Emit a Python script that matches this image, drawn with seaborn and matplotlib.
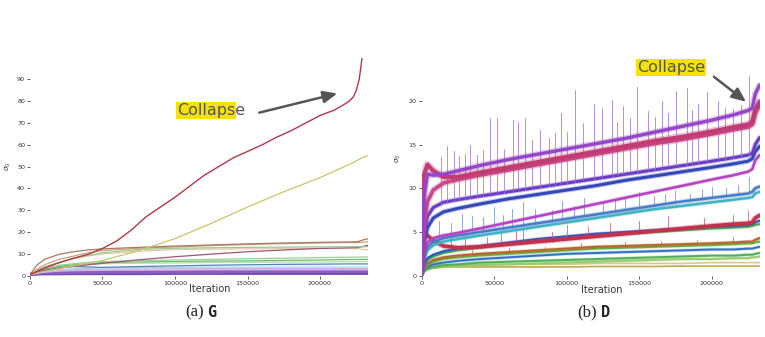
import matplotlib
matplotlib.use("Agg")
import matplotlib.pyplot as plt
from matplotlib.patches import Rectangle
import seaborn as sns
import pandas as pd

# ---------------- (a) G : sigma_0 of generator layers ----------------
g_iter = [0, 5000, 10000, 20000, 30000, 40000, 50000, 60000, 70000, 80000, 90000,
          100000, 110000, 120000, 130000, 140000, 150000, 160000, 170000, 180000,
          190000, 200000, 210000, 216000, 220000, 223000, 225000, 227000, 229000]
g_red = [0.5, 2.0, 3.5, 6.0, 8.0, 9.8, 12.5, 16.0, 21.0, 27.0, 31.5,
         36.0, 41.0, 46.0, 50.0, 54.0, 57.0, 60.0, 63.5, 66.5,
         70.0, 73.5, 76.0, 78.3, 80.0, 82.0, 85.0, 90.0, 100.0]

g_iter2 = [0, 5000, 10000, 20000, 30000, 40000, 50000, 75000, 100000, 125000,
           150000, 175000, 200000, 220000, 226000, 230000, 233000]
g_yellow = [0.5, 1.3, 2.0, 3.2, 4.5, 5.7, 7.0, 11.5, 17.0, 24.0,
            31.5, 38.5, 45.0, 51.0, 53.0, 54.5, 55.0]
g_brown1 = [0.5, 5.0, 7.5, 9.8, 11.0, 11.8, 12.3, 13.0, 13.6, 14.1,
            14.6, 15.0, 15.3, 15.5, 15.6, 16.5, 16.9]
g_brown2 = [0.5, 3.0, 5.0, 7.5, 9.0, 10.5, 11.5, 12.6, 13.2, 13.8,
            14.3, 14.7, 15.0, 15.2, 15.2, 15.4, 15.5]
g_green = [0.5, 2.5, 4.0, 6.0, 8.0, 9.3, 10.5, 12.0, 12.6, 12.8,
           13.0, 13.1, 13.2, 13.3, 13.3, 13.3, 13.3]
g_mauve = [0.5, 1.5, 2.5, 3.5, 4.3, 5.0, 5.7, 7.3, 8.7, 9.9,
           11.0, 11.8, 12.5, 12.8, 12.9, 13.5, 14.0]
g_beige = [0.5, 2.5, 4.0, 6.0, 7.8, 9.0, 10.0, 11.2, 12.0, 12.2,
           12.3, 12.4, 12.5, 12.5, 12.4, 12.0, 11.8]
g_green1 = [0.5, 2.3, 3.5, 4.8, 5.5, 6.1, 6.5, 6.9, 7.2, 7.5,
            7.8, 8.0, 8.3, 8.5, 8.5, 8.6, 8.6]
g_green2 = [0.5, 2.0, 3.0, 4.3, 5.0, 5.6, 6.0, 6.3, 6.5, 6.7,
            6.8, 7.0, 7.2, 7.4, 7.4, 7.5, 7.5]
g_green3 = [0.5, 2.0, 3.0, 4.0, 4.6, 5.2, 5.5, 5.7, 5.8, 6.0,
            6.1, 6.2, 6.3, 6.4, 6.4, 6.5, 6.5]
g_teal = [0.5, 1.8, 2.5, 3.6, 4.2, 4.0, 3.8, 4.2, 4.5, 4.8,
          5.0, 5.2, 5.3, 5.4, 5.4, 5.4, 5.4]
g_ltblue = [0.5, 1.5, 2.0, 2.8, 3.2, 3.4, 3.6, 3.7, 3.8, 3.9,
            3.9, 4.0, 4.0, 4.0, 4.0, 4.0, 4.0]
g_lavender = [0.5, 1.3, 1.8, 2.4, 2.7, 2.9, 3.0, 3.1, 3.2, 3.2,
              3.3, 3.3, 3.3, 3.3, 3.3, 3.3, 3.3]
g_pink = [0.5, 1.2, 1.6, 2.1, 2.3, 2.4, 2.5, 2.6, 2.6, 2.7,
          2.7, 2.7, 2.7, 2.7, 2.7, 2.7, 2.7]
g_purple = [0.5, 1.2, 1.4, 1.5, 1.6, 1.6, 1.7, 1.7, 1.8, 1.8,
            1.9, 1.9, 1.9, 2.0, 2.0, 2.0, 2.0]
g_purple2 = [0.5, 0.9, 1.0, 1.0, 1.1, 1.1, 1.1, 1.1, 1.2, 1.2,
             1.2, 1.2, 1.2, 1.2, 1.2, 1.2, 1.2]

# ---------------- (b) D : sigma_0 of discriminator layers ----------------
d_iter = [0, 1500, 4000, 8000, 15000, 25000, 40000, 60000, 80000, 100000,
          120000, 140000, 160000, 180000, 200000, 215000, 225000, 228000, 230000, 233000]
d_violet = [0.5, 9.0, 11.6, 11.5, 11.6, 12.0, 12.6, 13.3, 13.9, 14.5,
            15.1, 15.7, 16.4, 17.1, 17.8, 18.4, 18.9, 19.2, 20.8, 21.8]
d_rose = [1.0, 11.5, 12.7, 12.0, 11.3, 11.3, 11.8, 12.4, 13.0, 13.6,
          14.2, 14.8, 15.4, 15.9, 16.5, 17.0, 17.3, 17.6, 19.0, 19.9]
d_rose2 = [0.3, 5.5, 8.5, 9.8, 10.6, 11.0, 11.5, 12.1, 12.7, 13.3,
           13.9, 14.5, 15.1, 15.6, 16.2, 16.7, 17.0, 17.3, 18.6, 19.5]
d_indigo = [0.3, 4.5, 6.8, 7.8, 8.4, 8.7, 9.1, 9.6, 10.1, 10.6,
            11.1, 11.6, 12.1, 12.6, 13.1, 13.5, 13.8, 14.0, 15.0, 15.8]
d_blue = [0.2, 3.5, 5.5, 6.6, 7.3, 7.7, 8.2, 8.8, 9.3, 9.8,
          10.3, 10.9, 11.4, 11.9, 12.4, 12.8, 13.1, 13.4, 14.2, 14.8]
d_magenta = [0.2, 2.5, 3.8, 4.3, 4.6, 4.9, 5.4, 6.1, 6.8, 7.5,
             8.2, 8.9, 9.6, 10.3, 11.0, 11.5, 11.9, 12.2, 13.2, 13.8]
d_steel = [0.2, 2.2, 3.3, 3.9, 4.3, 4.6, 5.0, 5.5, 6.0, 6.5,
           7.0, 7.5, 8.0, 8.5, 8.9, 9.2, 9.4, 9.6, 10.0, 10.2]
d_teal = [0.2, 1.8, 2.9, 3.5, 3.9, 4.2, 4.6, 5.1, 5.6, 6.1,
          6.6, 7.1, 7.6, 8.0, 8.4, 8.7, 8.9, 9.0, 9.4, 9.6]
d_crimson = [0.5, 4.4, 4.6, 4.0, 3.4, 3.2, 3.3, 3.6, 3.9, 4.2,
             4.5, 4.8, 5.1, 5.4, 5.7, 5.9, 6.0, 6.1, 6.6, 6.9]
d_blue2 = [0.1, 1.2, 2.0, 2.4, 2.8, 3.1, 3.4, 3.8, 4.2, 4.5,
           4.8, 5.0, 5.2, 5.4, 5.6, 5.7, 5.8, 5.9, 6.1, 6.3]
d_green = [0.1, 1.0, 1.8, 2.2, 2.6, 2.9, 3.2, 3.6, 3.9, 4.2,
           4.5, 4.8, 5.0, 5.2, 5.4, 5.5, 5.6, 5.7, 5.8, 5.9]
d_brown = [0.1, 0.8, 1.4, 1.8, 2.1, 2.3, 2.5, 2.7, 2.9, 3.1,
           3.3, 3.4, 3.5, 3.6, 3.7, 3.8, 3.9, 3.9, 4.1, 4.3]
d_green2 = [0.1, 0.7, 1.2, 1.6, 1.9, 2.1, 2.3, 2.5, 2.7, 2.9,
            3.1, 3.2, 3.3, 3.4, 3.5, 3.6, 3.7, 3.7, 3.8, 3.9]
d_blue3 = [0.1, 0.6, 1.0, 1.3, 1.5, 1.7, 1.9, 2.1, 2.3, 2.5,
           2.6, 2.7, 2.8, 2.9, 3.0, 3.0, 3.1, 3.1, 3.2, 3.3]
d_green3 = [0.1, 0.5, 0.8, 1.0, 1.2, 1.3, 1.5, 1.6, 1.7, 1.8,
            1.9, 2.0, 2.1, 2.2, 2.3, 2.3, 2.4, 2.4, 2.5, 2.6]
d_lime = [0.1, 0.5, 0.7, 0.9, 1.0, 1.1, 1.2, 1.3, 1.4, 1.5,
          1.6, 1.7, 1.8, 1.9, 1.9, 2.0, 2.0, 2.1, 2.1, 2.2]
d_khaki = [0.8, 1.0, 1.1, 1.2, 1.2, 1.2, 1.3, 1.3, 1.3, 1.3,
           1.4, 1.4, 1.4, 1.4, 1.5, 1.5, 1.5, 1.5, 1.5, 1.5]
d_olive = [0.7, 0.8, 0.9, 0.9, 1.0, 1.0, 1.0, 1.0, 1.0, 1.0,
           1.05, 1.05, 1.05, 1.1, 1.1, 1.1, 1.1, 1.1, 1.1, 1.1]

# Spikes on the upper discriminator layers (iteration, low, high)
spike_hi_x = [13000, 17700, 22000, 26000, 30000, 33300, 38000, 42000, 47100, 51700,
              57000, 63200, 66700, 71300, 76000, 81600, 88000, 92000, 95900, 100500,
              105700, 111500, 118900, 124100, 131000, 135000, 139000, 144000, 148300, 156000,
              161000, 165500, 170000, 175400, 182800, 186500, 190800, 196600, 204600, 209000,
              215000, 220000, 226000]
spike_hi_lo = [8.1, 8.3, 8.5, 8.7, 8.8, 8.9, 9.0, 9.1, 9.3, 9.4,
               9.5, 9.7, 9.8, 9.9, 10.0, 10.1, 10.3, 10.4, 10.5, 10.6,
               10.7, 10.9, 11.1, 11.2, 11.4, 11.5, 11.6, 11.7, 11.8, 12.0,
               12.1, 12.2, 12.4, 12.5, 12.7, 12.8, 12.9, 13.0, 13.2, 13.3,
               13.5, 13.6, 13.8]
spike_hi_top = [13.6, 14.8, 14.3, 13.7, 13.9, 14.9, 13.8, 14.4, 18.0, 18.0,
                14.5, 17.8, 17.6, 18.0, 15.5, 16.7, 15.8, 16.3, 18.6, 16.4,
                21.3, 17.5, 19.7, 19.2, 20.1, 17.6, 19.4, 18.1, 21.6, 18.8,
                18.2, 20.0, 18.6, 21.1, 21.5, 19.0, 19.6, 21.0, 20.0, 19.2,
                19.1, 19.5, 22.9]
# Spikes on the middle layers
spike_mid_x = [12000, 20000, 28000, 35000, 42000, 50000, 56000, 62000, 70000, 78000,
               90000, 97000, 105000, 112000, 125000, 133000, 140000, 150000, 160000,
               168000, 175000, 185000, 193000, 200000, 210000, 218000, 226000]
spike_mid_lo = [4.0, 4.3, 4.5, 4.8, 5.0, 5.2, 5.4, 5.5, 5.7, 6.0,
                6.2, 6.4, 6.6, 6.8, 7.1, 7.3, 7.5, 7.7, 8.0,
                8.2, 8.4, 8.6, 8.7, 8.9, 9.1, 9.2, 9.4]
spike_mid_top = [6.3, 6.0, 7.1, 6.8, 6.7, 7.9, 7.0, 7.6, 8.4, 7.6,
                 7.5, 8.6, 8.0, 8.9, 8.3, 8.7, 9.0, 9.6, 9.1,
                 9.4, 9.8, 9.4, 9.9, 10.1, 10.0, 10.4, 11.3]
# Spikes on the lower layers
spike_lo_x = [20000, 30000, 45000, 55000, 65000, 70000, 90000, 100000,
              115000, 130000, 150000, 170000, 195000, 215000, 225000]
spike_lo_lo = [3.2, 3.3, 3.3, 3.5, 3.6, 3.7, 3.9, 4.2,
               4.4, 4.6, 4.8, 5.2, 5.6, 5.9, 6.0]
spike_lo_top = [4.3, 4.6, 4.4, 5.0, 5.1, 5.3, 5.0, 5.8,
                5.6, 6.0, 6.3, 6.8, 6.6, 6.9, 7.4]
spike_br_x = [35000, 60000, 85000, 110000, 140000, 165000, 190000, 215000]
spike_br_lo = [2.4, 2.6, 2.8, 3.1, 3.3, 3.5, 3.6, 3.8]
spike_br_top = [2.9, 3.2, 3.3, 3.7, 3.8, 4.0, 4.1, 4.4]

ticks_x = [0, 50000, 100000, 150000, 200000]
ticks_g = [0, 10, 20, 30, 40, 50, 60, 70, 80, 90]
ticks_d = [0, 5, 10, 15, 20]

sns.set_theme(style="ticks")
plt.rcParams["font.family"] = ["DejaVu Sans"]

fig = plt.figure(figsize=(7.65, 3.37), dpi=100)
ax_g = fig.add_axes([0.0392, 0.1819, 0.4417, 0.6469])
ax_d = fig.add_axes([0.5512, 0.1819, 0.4417, 0.5965])


def line(ax, x, y, color, lw, halo=0.0, alpha=1.0):
    if halo > 0:
        sns.lineplot(x=x, y=y, ax=ax, color=color, lw=lw + halo, alpha=0.3,
                     estimator=None, sort=False)
    sns.lineplot(x=x, y=y, ax=ax, color=color, lw=lw, alpha=alpha,
                 estimator=None, sort=False)


def spikes(ax, xs, lows, highs, color, lw=0.75, alpha=0.75):
    rows = []
    for i, (x, lo, hi) in enumerate(zip(xs, lows, highs)):
        rows.append((i, x, lo))
        rows.append((i, x, hi))
    df = pd.DataFrame(rows, columns=["sid", "it", "val"])
    sns.lineplot(data=df, x="it", y="val", units="sid", estimator=None, sort=False,
                 ax=ax, color=color, lw=lw, alpha=alpha)


# ---- generator panel
line(ax_g, g_iter2, g_purple2, "#6848b0", 2.6)
line(ax_g, g_iter2, g_purple, "#8a5cc4", 2.6)
line(ax_g, g_iter2, g_pink, "#e4b4d8", 0.9)
line(ax_g, g_iter2, g_lavender, "#c8b0e4", 0.9)
line(ax_g, g_iter2, g_ltblue, "#a8d4ec", 0.9)
line(ax_g, g_iter2, g_teal, "#4c84b4", 0.9)
line(ax_g, g_iter2, g_green3, "#b8e0a4", 0.9)
line(ax_g, g_iter2, g_green2, "#70b870", 0.9)
line(ax_g, g_iter2, g_green1, "#98d098", 0.9)
line(ax_g, g_iter2, g_beige, "#dccca4", 0.9)
line(ax_g, g_iter2, g_mauve, "#a45474", 0.9)
line(ax_g, g_iter2, g_green, "#9cc88c", 0.9)
line(ax_g, g_iter2, g_brown2, "#caa084", 0.9)
line(ax_g, g_iter2, g_brown1, "#a87a62", 0.9)
line(ax_g, g_iter2, g_yellow, "#cac46c", 0.9)
line(ax_g, g_iter, g_red, "#b03848", 1.0)

# ---- discriminator panel
line(ax_d, d_iter, d_olive, "#c0a850", 1.2)
line(ax_d, d_iter, d_khaki, "#d8c890", 1.2)
line(ax_d, d_iter, d_lime, "#98cc68", 1.4, halo=1.0)
line(ax_d, d_iter, d_green3, "#50b058", 1.4, halo=1.0)
line(ax_d, d_iter, d_blue3, "#3470c4", 1.4, halo=1.0)
line(ax_d, d_iter, d_green2, "#5cb444", 1.4, halo=1.0)
spikes(ax_d, spike_br_x, spike_br_lo, spike_br_top, "#b07848")
line(ax_d, d_iter, d_brown, "#b8682c", 1.6, halo=1.0)
line(ax_d, d_iter, d_green, "#44b04c", 1.5, halo=1.0)
line(ax_d, d_iter, d_blue2, "#2c58c0", 1.5, halo=1.0)
spikes(ax_d, spike_lo_x, spike_lo_lo, spike_lo_top, "#c05878")
line(ax_d, d_iter, d_crimson, "#c4304e", 2.6, halo=1.5)
line(ax_d, d_iter, d_teal, "#40b4c4", 1.8, halo=1.2)
spikes(ax_d, spike_mid_x, spike_mid_lo, spike_mid_top, "#6a94d0")
line(ax_d, d_iter, d_steel, "#4a7cc8", 1.8, halo=1.5)
line(ax_d, d_iter, d_magenta, "#b444c4", 1.8, halo=1.2)
line(ax_d, d_iter, d_blue, "#3448b8", 2.2, halo=1.5)
line(ax_d, d_iter, d_indigo, "#6a3ec4", 2.2, halo=1.5)
spikes(ax_d, spike_hi_x, spike_hi_lo, spike_hi_top, "#a070cc")
line(ax_d, d_iter, d_rose2, "#c8488a", 2.6, halo=2.0)
line(ax_d, d_iter, d_rose, "#c23c74", 3.0, halo=2.5)
line(ax_d, d_iter, d_violet, "#9446c6", 2.4, halo=2.0)

for ax, yt, ylim in ((ax_g, ticks_g, 100), (ax_d, ticks_d, 23)):
    ax.set_xlim(0, 233000)
    ax.set_ylim(0, ylim)
    ax.set_xticks(ticks_x)
    ax.set_xticklabels([str(t) for t in ticks_x])
    ax.set_yticks(yt)
    ax.set_yticklabels([str(t) for t in yt])
    ax.tick_params(labelsize=4.6, length=2, width=0.6, pad=1.5,
                   colors="#444444", labelcolor="#333333")
    ax.set_xlabel("Iteration", fontsize=7, color="#333333")
    ax.set_ylabel(r"$\sigma_0$", fontsize=5, color="#333333")
    sns.despine(ax=ax, left=True, bottom=True)
    ax.set_facecolor("white")

ax_g.xaxis.set_label_coords(0.533, -0.04)
ax_g.yaxis.set_label_coords(-0.049, 0.5)
ax_d.xaxis.set_label_coords(0.534, -0.045)
ax_d.yaxis.set_label_coords(-0.054, 0.584)

# "Collapse" callouts
hl = "#f4e300"
tx = "#555555"
word_g = ax_g.text(101200, 76.0, "Collapse", fontsize=11.5, color=tx, va="center",
                   zorder=6)
ax_g.annotate("", xy=(213800, 83.9), xytext=(156300, 74.5),
              arrowprops=dict(arrowstyle="-|>,head_length=0.7,head_width=0.3",
                              color="#555555", lw=1.8))

# yellow marker stroke behind the first seven letters of the left word
fig.canvas.draw()
renderer = fig.canvas.get_renderer()
probe = ax_g.text(101200, 76.0, "Collaps", fontsize=11.5, va="center")
bb = probe.get_window_extent(renderer)
probe.remove()
inv = ax_g.transData.inverted()
(x0, y0), (x1, y1) = inv.transform([(bb.x0 - 1, bb.y0 - 1), (bb.x1 + 1, bb.y1 + 1)])
ax_g.add_patch(Rectangle((x0, y0), x1 - x0, y1 - y0, facecolor=hl, edgecolor="none",
                         zorder=5, clip_on=False))

ax_d.text(148300, 23.8, "Collapse", fontsize=11.5, color=tx, va="center", clip_on=False,
          bbox=dict(fc=hl, ec="none", pad=0.6))
ax_d.annotate("", xy=(225200, 19.7), xytext=(200000, 22.96),
              arrowprops=dict(arrowstyle="-|>,head_length=0.7,head_width=0.3",
                              color="#555555", lw=1.8), annotation_clip=False)

# Sub-figure captions
fig.text(0.266, 0.074, "(a)", family="Liberation Serif", fontsize=12, ha="right",
         va="center", color="#222222")
fig.text(0.271, 0.074, "G", family="DejaVu Sans Mono", weight="bold", fontsize=11,
         ha="left", va="center", color="#222222")
fig.text(0.780, 0.074, "(b)", family="Liberation Serif", fontsize=12, ha="right",
         va="center", color="#222222")
fig.text(0.785, 0.074, "D", family="DejaVu Sans Mono", weight="bold", fontsize=11,
         ha="left", va="center", color="#222222")

fig.savefig("out.png", dpi=100, facecolor="white")
